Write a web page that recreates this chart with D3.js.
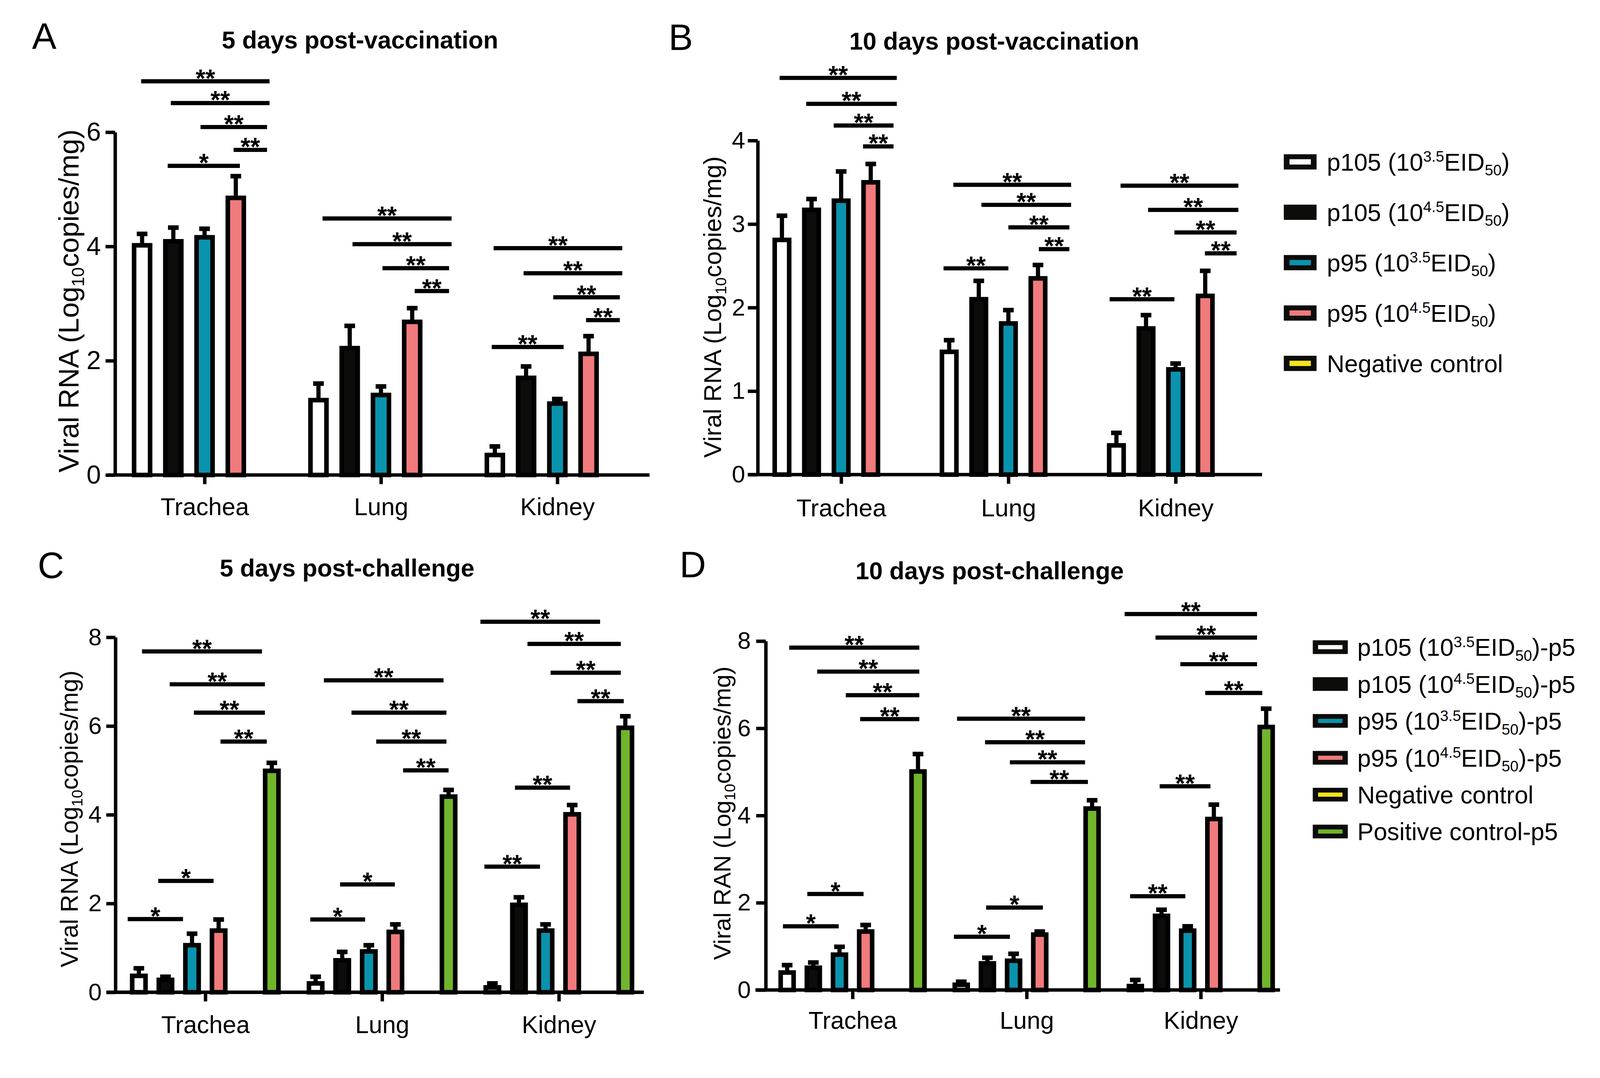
<!DOCTYPE html>
<html><head><meta charset="utf-8">
<script src="https://cdn.jsdelivr.net/npm/d3@7"></script>
<style>html,body{margin:0;padding:0;background:#fff;overflow:hidden}svg{display:block;width:100vw;height:100vh}</style>
</head><body>
<svg id="chart" viewBox="0 0 4200 2760" preserveAspectRatio="xMinYMin meet"></svg>
<script>
// ---------------- DATA ----------------
const categories = ["Trachea", "Lung", "Kidney"];
const seriesVaccination = ["p105 (10^3.5^EID_50_)", "p105 (10^4.5^EID_50_)", "p95 (10^3.5^EID_50_)", "p95 (10^4.5^EID_50_)", "Negative control"];
const seriesChallenge = ["p105 (10^3.5^EID_50_)-p5", "p105 (10^4.5^EID_50_)-p5", "p95 (10^3.5^EID_50_)-p5", "p95 (10^4.5^EID_50_)-p5", "Negative control", "Positive control-p5"];
const panelTitles = ["5 days post-vaccination", "10 days post-vaccination", "5 days post-challenge", "10 days post-challenge"];
const panelLetters = ["A", "B", "C", "D"];
const yLabels = ["Viral RNA (Log_10_copies/mg)", "Viral RNA (Log_10_copies/mg)", "Viral RNA (Log_10_copies/mg)", "Viral RAN (Log_10_copies/mg)"];
const yTicksA = [0, 2, 4, 6];
const yTicksB = [0, 1, 2, 3, 4];
const yTicksC = [0, 2, 4, 6, 8];
const yTicksD = [0, 2, 4, 6, 8];

// means per category (rows) and series (columns)
const meanA = [[4.02, 4.09, 4.16, 4.85, 0], [1.31, 2.22, 1.40, 2.68, 0], [0.35, 1.70, 1.25, 2.12, 0]];
const sdA   = [[0.20, 0.24, 0.15, 0.38, 0], [0.29, 0.39, 0.15, 0.24, 0], [0.15, 0.20, 0.08, 0.31, 0]];
const meanB = [[2.81, 3.17, 3.28, 3.50, 0], [1.47, 2.10, 1.81, 2.35, 0], [0.35, 1.75, 1.26, 2.14, 0]];
const sdB   = [[0.29, 0.13, 0.35, 0.22, 0], [0.14, 0.22, 0.16, 0.16, 0], [0.15, 0.16, 0.07, 0.30, 0]];
const meanC = [[0.37, 0.28, 1.06, 1.39, 0, 4.99], [0.20, 0.72, 0.92, 1.36, 0, 4.41], [0.11, 1.97, 1.39, 4.01, 0, 5.96]];
const sdC   = [[0.17, 0.07, 0.26, 0.25, 0, 0.18], [0.15, 0.19, 0.14, 0.17, 0, 0.15], [0.09, 0.17, 0.14, 0.21, 0, 0.26]];
const meanD = [[0.40, 0.51, 0.81, 1.34, 0, 5.01], [0.12, 0.61, 0.67, 1.27, 0, 4.16], [0.09, 1.70, 1.36, 3.92, 0, 6.03]];
const sdD   = [[0.17, 0.12, 0.18, 0.15, 0, 0.40], [0.07, 0.13, 0.16, 0.07, 0, 0.19], [0.14, 0.14, 0.10, 0.33, 0, 0.42]];

// significance bars: [category index, from series, to series, height (data units), label]
const sigA = [
  [0, -0.03, 4.08, 6.89, "**"], [0, 0.92, 4.08, 6.51, "**"], [0, 1.87, 4.0, 6.09, "**"], [0, 2.93, 4.0, 5.69, "**"], [0, 0.82, 3.13, 5.41, "*"],
  [1, 0.13, 4.26, 4.49, "**"], [1, 1.09, 4.26, 4.04, "**"], [1, 2.05, 4.18, 3.62, "**"], [1, 3.08, 4.18, 3.22, "**"],
  [2, -0.04, 4.08, 3.97, "**"], [2, 0.92, 4.08, 3.53, "**"], [2, 1.87, 4.0, 3.11, "**"], [2, 2.92, 4.0, 2.71, "**"], [2, -0.1, 2.2, 2.24, "**"]
];
const sigB = [
  [0, -0.08, 3.88, 4.75, "**"], [0, 0.82, 3.88, 4.44, "**"], [0, 1.75, 3.77, 4.18, "**"], [0, 2.74, 3.77, 3.93, "**"],
  [1, 0.14, 4.12, 3.47, "**"], [1, 1.09, 4.12, 3.23, "**"], [1, 2.0, 4.06, 2.96, "**"], [1, 3.03, 4.06, 2.70, "**"], [1, -0.19, 2.0, 2.47, "**"],
  [2, 0.14, 4.12, 3.46, "**"], [2, 1.07, 4.12, 3.17, "**"], [2, 1.96, 4.06, 2.90, "**"], [2, 2.99, 4.06, 2.65, "**"], [2, -0.23, 1.96, 2.10, "**"]
];
const sigC = [
  [0, 0.12, 4.63, 7.68, "**"], [0, 1.16, 4.74, 6.94, "**"], [0, 2.07, 4.74, 6.30, "**"], [0, 3.07, 4.81, 5.65, "**"], [0, -0.42, 1.66, 1.65, "*"], [0, 0.73, 2.81, 2.51, "*"],
  [1, 0.31, 4.81, 7.03, "**"], [1, 1.35, 4.92, 6.30, "**"], [1, 2.28, 4.92, 5.65, "**"], [1, 3.29, 5.0, 5.0, "**"], [1, -0.2, 1.86, 1.64, "*"], [1, 0.92, 2.98, 2.43, "*"],
  [2, -0.45, 4.05, 8.35, "**"], [2, 1.32, 4.83, 7.85, "**"], [2, 2.19, 4.83, 7.20, "**"], [2, 3.2, 4.94, 6.56, "**"], [2, -0.3, 1.79, 2.83, "**"], [2, 0.85, 2.92, 4.61, "**"]
];
const sigD = [
  [0, 0.08, 5.05, 7.85, "**"], [0, 1.15, 5.05, 7.30, "**"], [0, 2.24, 5.05, 6.76, "**"], [0, 2.79, 5.05, 6.21, "**"], [0, -0.16, 1.97, 1.46, "*"], [0, 0.77, 2.92, 2.20, "*"],
  [1, -0.16, 4.73, 6.22, "**"], [1, 0.91, 4.73, 5.68, "**"], [1, 1.86, 4.73, 5.22, "**"], [1, 2.65, 4.84, 4.77, "**"], [1, -0.28, 1.86, 1.22, "*"], [1, 0.95, 3.12, 1.89, "*"],
  [2, -0.41, 4.65, 8.62, "**"], [2, 0.77, 4.65, 8.08, "**"], [2, 1.72, 4.65, 7.47, "**"], [2, 2.67, 4.85, 6.81, "**"], [2, -0.2, 1.91, 2.15, "**"], [2, 0.93, 2.87, 4.67, "**"]
];

// ---------------- STYLE / LAYOUT ----------------
const palette = ["#ffffff", "#0c0c0a", "#0a93ad", "#f07a7c", "#f3e41c", "#70b52b"];
const FONT = '"Liberation Sans", Arial, Helvetica, sans-serif';
const svg = d3.select("#chart");
svg.append("rect").attr("width", 4200).attr("height", 2760).attr("fill", "#fff");

function richText(sel, str, fs) {
  sel.selectAll("tspan").remove();
  const parts = str.split(/(\^[^^]*\^|_[^_]*_)/).filter(s => s.length);
  let cur = 0;
  parts.forEach(p => {
    let txt = p, size = fs, off = 0;
    if (p.length > 1 && p[0] === "^" && p.endsWith("^")) { txt = p.slice(1, -1); size = fs * 0.62; off = -fs * 0.36; }
    else if (p.length > 1 && p[0] === "_" && p.endsWith("_")) { txt = p.slice(1, -1); size = fs * 0.62; off = fs * 0.2; }
    sel.append("tspan").attr("font-size", size).attr("dy", off - cur).text(txt);
    cur = off;
  });
}

const layouts = [
  {axX: 302, y0: 1247, yTop: 347, yMax: 6, cx0: 537, cx2: 1463, pitch: 82, barW: 54, xStart: 284, xEnd: 1705, tickLen: 25, tickPad: 12, tickFs: 68, catPad: 36, catFs: 64, tx: 945, ty: 127, lx: 84, ly: 128, ylx: 206, yly: 790, ylfs: 74},
  {axX: 1989, y0: 1246, yTop: 369, yMax: 4, cx0: 2208, cx2: 3086, pitch: 77.7, barW: 50, xStart: 1963, xEnd: 3313, tickLen: 26, tickPad: 7, tickFs: 63, catPad: 39, catFs: 65, tx: 2610, ty: 130, lx: 1755, ly: 131, ylx: 1893, yly: 806, ylfs: 65},
  {axX: 303, y0: 2605, yTop: 1673, yMax: 8, cx0: 539, cx2: 1467, pitch: 69.8, barW: 47, xStart: 280, xEnd: 1690, tickLen: 24, tickPad: 12, tickFs: 63, catPad: 38, catFs: 64, tx: 911, ty: 1513, lx: 99, ly: 1518, ylx: 204, yly: 2150, ylfs: 64},
  {axX: 2010, y0: 2599, yTop: 1683, yMax: 8, cx0: 2238, cx2: 3152, pitch: 68.7, barW: 46, xStart: 1983, xEnd: 3360, tickLen: 25, tickPad: 14, tickFs: 63, catPad: 32, catFs: 64, tx: 2598, ty: 1521, lx: 1784, ly: 1516, ylx: 1917, yly: 2135, ylfs: 63}
];

const panels = [
  {means: meanA, sds: sdA, sig: sigA, ticks: yTicksA},
  {means: meanB, sds: sdB, sig: sigB, ticks: yTicksB},
  {means: meanC, sds: sdC, sig: sigC, ticks: yTicksC},
  {means: meanD, sds: sdD, sig: sigD, ticks: yTicksD}
];

panels.forEach((pd, pi) => {
  const L = layouts[pi];
  const g = svg.append("g");
  const n = pd.means[0].length;
  const y = d3.scaleLinear().domain([0, L.yMax]).range([L.y0, L.yTop]);
  const xg = d3.scalePoint().domain(categories).range([L.cx0, L.cx2]);
  const off = d3.scaleLinear().domain([0, n - 1]).range([-(n - 1) / 2 * L.pitch, (n - 1) / 2 * L.pitch]);
  const sw = 12;

  g.append("text").attr("x", L.lx).attr("y", L.ly).attr("font-family", FONT).attr("font-size", 96).text(panelLetters[pi]);
  g.append("text").attr("x", L.tx).attr("y", L.ty).attr("text-anchor", "middle").attr("font-family", FONT)
    .attr("font-size", 64).attr("font-weight", "bold").text(panelTitles[pi]);

  const yl = g.append("text").attr("transform", `translate(${L.ylx},${L.yly}) rotate(-90)`)
    .attr("text-anchor", "middle").attr("font-family", FONT).attr("font-size", L.ylfs);
  richText(yl, yLabels[pi], L.ylfs);

  const barData = [];
  pd.means.forEach((row, ci) => row.forEach((v, si) => { if (v > 0) barData.push({ci, si, v, sd: pd.sds[ci][si]}); }));
  const cxOf = d => xg(categories[d.ci]) + off(d.si);

  g.selectAll(".stem").data(barData).enter().append("line")
    .attr("x1", cxOf).attr("x2", cxOf)
    .attr("y1", d => y(d.v)).attr("y2", d => y(d.v + d.sd))
    .attr("stroke", "#000").attr("stroke-width", 11);
  g.selectAll(".cap").data(barData).enter().append("rect")
    .attr("x", d => cxOf(d) - 14).attr("width", 28)
    .attr("y", d => y(d.v + d.sd) - 6).attr("height", 12).attr("fill", "#000");

  g.selectAll(".bar").data(barData).enter().append("rect")
    .attr("x", d => cxOf(d) - (L.barW - sw) / 2).attr("width", L.barW - sw)
    .attr("y", d => y(d.v)).attr("height", d => L.y0 - y(d.v))
    .attr("fill", d => palette[d.si]).attr("stroke", "#000").attr("stroke-width", sw);

  const ya = g.append("g").attr("transform", `translate(${L.axX},0)`)
    .call(d3.axisLeft(y).tickValues(pd.ticks).tickSize(L.tickLen).tickSizeOuter(0).tickPadding(L.tickPad).tickFormat(d3.format("d")));
  ya.select(".domain").attr("stroke", "#000").attr("stroke-width", 9);
  ya.selectAll(".tick line").attr("stroke", "#000").attr("stroke-width", 9);
  ya.selectAll(".tick text").attr("font-size", L.tickFs).attr("font-family", FONT).attr("fill", "#000");

  const xa = g.append("g").attr("transform", `translate(0,${L.y0})`)
    .call(d3.axisBottom(xg).tickSize(24).tickSizeOuter(0).tickPadding(L.catPad));
  xa.select(".domain").remove();
  xa.selectAll(".tick line").attr("stroke", "#000").attr("stroke-width", 9);
  xa.selectAll(".tick text").attr("font-size", L.catFs).attr("font-family", FONT).attr("fill", "#000");
  g.append("line").attr("x1", L.xStart).attr("x2", L.xEnd).attr("y1", L.y0).attr("y2", L.y0)
    .attr("stroke", "#000").attr("stroke-width", 9);

  const sigSel = g.selectAll(".sig").data(pd.sig).enter().append("g");
  sigSel.append("line")
    .attr("x1", d => xg(categories[d[0]]) + off(d[1])).attr("x2", d => xg(categories[d[0]]) + off(d[2]))
    .attr("y1", d => y(d[3])).attr("y2", d => y(d[3]))
    .attr("stroke", "#000").attr("stroke-width", 11);
  sigSel.append("text")
    .attr("x", d => xg(categories[d[0]]) + (off(d[1]) + off(d[2])) / 2)
    .attr("y", d => y(d[3]) + 15)
    .attr("text-anchor", "middle").attr("font-family", FONT).attr("font-size", 66).attr("font-weight", "bold")
    .text(d => d[4]);
});

// legends; font size fitted so that the widest label ends at maxRight
function drawLegend(labels, x0, tx, yFirst, yLast, swW, swH, inW, inH, fs0, maxRight) {
  const ly = d3.scaleLinear().domain([0, labels.length - 1]).range([yFirst, yLast]);
  const lg = svg.append("g");
  const items = lg.selectAll(".item").data(labels).enter().append("g")
    .attr("transform", (d, i) => `translate(0,${ly(i)})`);
  items.append("rect").attr("x", x0).attr("y", -swH / 2).attr("width", swW).attr("height", swH).attr("fill", "#0c0c0a");
  items.append("rect").attr("x", x0 + (swW - inW) / 2).attr("y", -inH / 2).attr("width", inW).attr("height", inH)
    .attr("fill", (d, i) => palette[i]);
  const texts = [];
  items.each(function (d) {
    const t = d3.select(this).append("text").attr("x", tx).attr("font-family", FONT).attr("font-size", fs0);
    richText(t, d, fs0);
    texts.push([t, d]);
  });
  let maxW = 0;
  texts.forEach(([t]) => { try { maxW = Math.max(maxW, t.node().getBBox().width); } catch (e) {} });
  const fs = maxW > 0 ? Math.min(fs0, fs0 * (maxRight - tx) / maxW) : fs0;
  texts.forEach(([t, d]) => { t.attr("font-size", fs).attr("y", fs * 0.36); richText(t, d, fs); });
}
drawLegend(seriesVaccination, 3370, 3483, 425, 954, 86, 40, 56, 14, 64, 3975);
drawLegend(seriesChallenge, 3446, 3563, 1699, 2183, 92, 36, 64, 11, 64, 4146);
</script>
</body></html>
